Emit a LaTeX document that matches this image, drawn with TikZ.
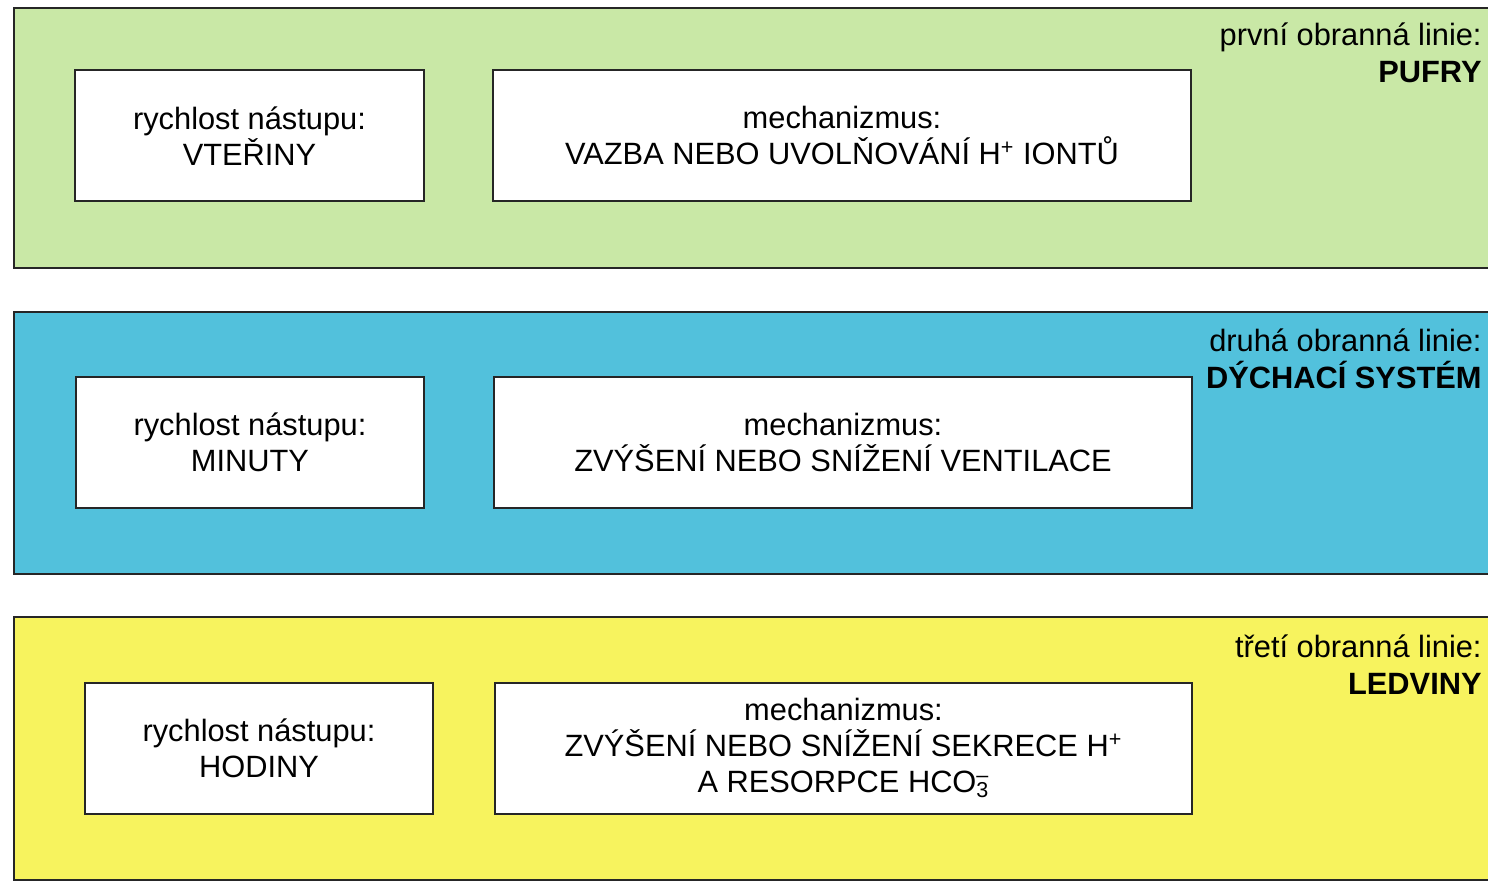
\documentclass[tikz,border=0pt]{standalone}
\usepackage{fontspec}
\setmainfont{Liberation Sans}
\definecolor{pas1}{HTML}{C9E8A6}
\definecolor{pas2}{HTML}{52C1DC}
\definecolor{pas3}{HTML}{F7F35E}
\tikzset{
  okno/.style={draw=black!85,line width=1pt,fill=white,align=center,inner sep=0pt,
    minimum height=65.5pt,font=\fontsize{15.4}{18}\selectfont},
  linie/.style={anchor=north east,align=right,inner sep=0pt,font=\fontsize{15.4}{18.5}\selectfont},
  okraj/.style={line width=1.2pt,draw=black!85}
}
\begin{document}
\begin{tikzpicture}[x=0.5pt,y=-0.5pt]
\useasboundingbox (0,0) rectangle (1488,881);
				%Pas 1
				\fill[pas1] (14,8) rectangle (1488,268);
				\draw[okraj] (1488,8)--(14,8)--(14,268)--(1488,268);
				\node[okno,minimum width=174.5pt] (rych1) at (249.5,136) {rychlost nástupu:\\VTEŘINY};
				\node[okno,minimum width=349pt] (mech1) at (842,135.5) {mechanizmus:\\VAZBA NEBO UVOLŇOVÁNÍ H\textsuperscript{+} IONTŮ};
				\node[linie] (lin1) at (1482,22) {první obranná linie:\\\textbf{PUFRY}};
				%Pas 2
				\fill[pas2] (14,312) rectangle (1488,574);
				\draw[okraj] (1488,312)--(14,312)--(14,574)--(1488,574);
				\node[okno,minimum width=174pt] (rych2) at (250,442.5) {rychlost nástupu:\\MINUTY};
				\node[okno,minimum width=349pt] (mech2) at (843,442.5) {mechanizmus:\\ZVÝŠENÍ NEBO SNÍŽENÍ VENTILACE};
				\node[linie] (lin2) at (1482,328) {druhá obranná linie:\\\textbf{DÝCHACÍ SYSTÉM}};
				%Pas 3
				\fill[pas3] (14,617) rectangle (1488,880);
				\draw[okraj] (1488,617)--(14,617)--(14,880)--(1488,880);
				\node[okno,minimum width=174pt] (rych3) at (259,748.5) {rychlost nástupu:\\HODINY};
				\node[okno,minimum width=348.5pt] (mech3) at (843.5,748) {mechanizmus:\\ZVÝŠENÍ NEBO SNÍŽENÍ SEKRECE H\textsuperscript{+}\\A RESORPCE HCO\rlap{\textsuperscript{--}}\textsubscript{3}};
				\node[linie] (lin3) at (1482,634) {třetí obranná linie:\\\textbf{LEDVINY}};
\end{tikzpicture}
\end{document}
